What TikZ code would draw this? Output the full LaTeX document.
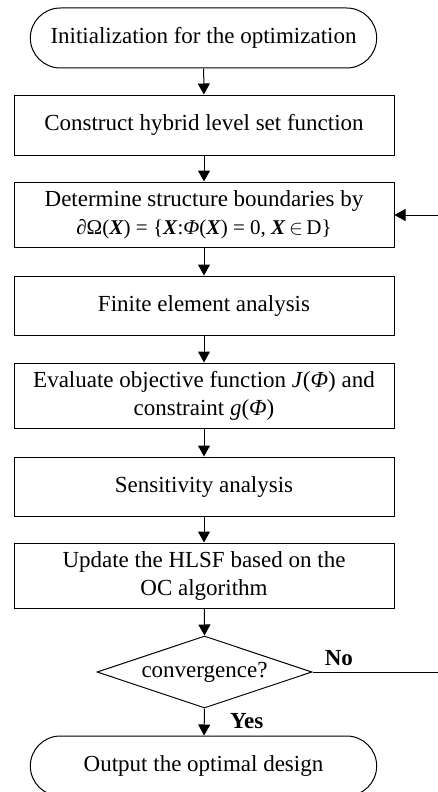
\documentclass[tikz,border=0pt]{standalone}
\usepackage{fontspec}
\setmainfont{Liberation Serif}
\usepackage{tikz}
\usetikzlibrary{shapes,arrows.meta,calc}

\tikzset{
    every node/.style={font=\fontsize{23}{28}\selectfont},
    procbox/.style={draw,line width=1pt,minimum width=380pt,align=center,inner sep=0pt},
    termbox/.style={draw,line width=1pt,rounded rectangle,minimum width=353pt,minimum height=60pt},
    flowline/.style={line width=1pt,-{Triangle[width=12pt,length=11pt]}}
}

\begin{document}
\begin{tikzpicture}[x=1pt,y=-1pt]
    \clip (0,0) rectangle (438,792);
    \useasboundingbox (0,0) rectangle (438,792);
    \node[termbox] (init) at (203.5,38) {Initialization for the optimization};
    \node[procbox,minimum height=60pt] (hlsf) at (204,125) {Construct hybrid level set function};
    \node[procbox,minimum height=65pt] (bound) at (204,214.5) {Determine structure boundaries by\\
        {\fontsize{21}{25}\selectfont ∂Ω(\textbf{\textit{X}}) = \{\textbf{\textit{X}}:\textit{Φ}(\textbf{\textit{X}}) = 0, \textbf{\textit{X}}\,$\in$\,D\}}};
    \node[procbox,minimum height=59pt] (fea) at (204,305.5) {Finite element analysis};
    \node[procbox,minimum height=65pt] (eval) at (204,395.5) {Evaluate objective function \textit{J}(\textit{Φ}) and\\constraint \textit{g}(\textit{Φ})};
    \node[procbox,minimum height=59pt] (sens) at (204,486.5) {Sensitivity analysis};
    \node[procbox,minimum height=65pt] (upd) at (204,575.5) {Update the HLSF based on the\\OC algorithm};
    \node[draw,line width=1pt,diamond,aspect=3,minimum width=215pt,minimum height=72pt,inner sep=0pt] (conv) at (204.5,672) {convergence?};
    \node[termbox] (out) at (203.5,766) {Output the optimal design};
    % connectors
    \draw[flowline] (init) -- (hlsf);
    \draw[flowline] (hlsf) -- (bound);
    \draw[flowline] (bound) -- (fea);
    \draw[flowline] (fea) -- (eval);
    \draw[flowline] (eval) -- (sens);
    \draw[flowline] (sens) -- (upd);
    \draw[flowline] (upd) -- (conv.north);
    \draw[flowline] (conv.south) -- (out) node[pos=0.45,right=22pt,font=\fontsize{23}{28}\selectfont\bfseries] (yes) {Yes};
    \coordinate (noend) at (438,672);
    \coordinate (backin) at (438,215);
    \draw[line width=1pt] (conv.east) -- (noend) node[pos=0.21,above=2pt,font=\fontsize{23}{28}\selectfont\bfseries] (no) {No};
    \draw[flowline] (backin) -- (bound.east |- backin);
\end{tikzpicture}
\end{document}
